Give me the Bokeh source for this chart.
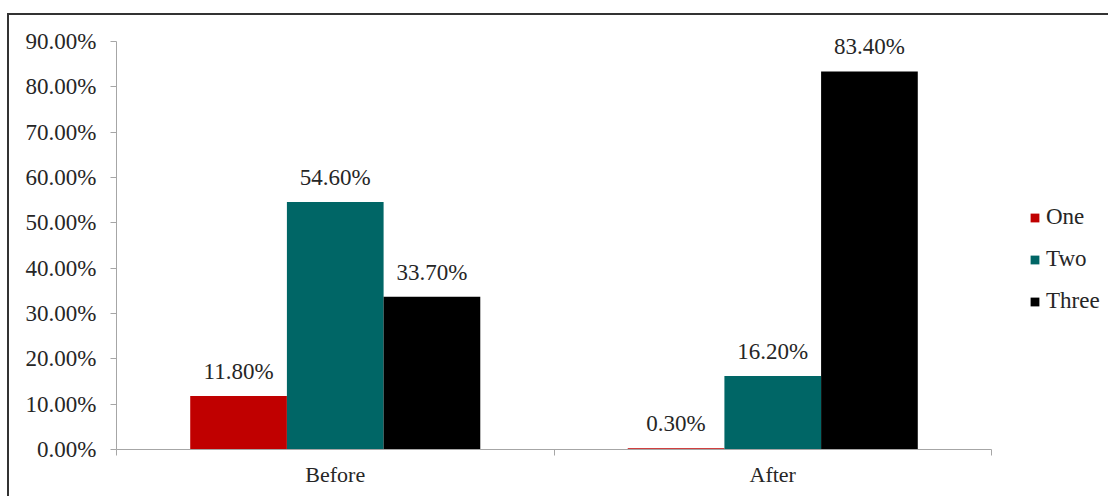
from bokeh.plotting import figure
from bokeh.models import (Range1d, LinearAxis, FixedTicker, NumeralTickFormatter,
                          ColumnDataSource, LabelSet, Legend, LegendItem)
from bokeh.embed import file_html
from bokeh.resources import INLINE

categories = ["Before", "After"]
series_names = ["One", "Two", "Three"]
one = [0.118, 0.003]
two = [0.546, 0.162]
three = [0.337, 0.834]
y_ticks = [0.0, 0.1, 0.2, 0.3, 0.4, 0.5, 0.6, 0.7, 0.8, 0.9]

colors = ["#C00000", "#006666", "#000000"]
FONT = "Liberation Serif"
TXT = "#262626"
AX = "#A6A6A6"

n = len(categories)
# frame spans to the right edge so the legend is not clipped; axis/grid bounded to data
p = figure(width=1101, height=483, output_backend="svg", toolbar_location=None,
           x_range=Range1d(0, n * 994 / 875), y_range=Range1d(0, 0.9 * 429 / 408),
           x_axis_type=None, y_axis_type=None,
           min_border_left=107, min_border_right=0, min_border_top=5, min_border_bottom=49,
           margin=(13, 0, 0, 7),
           styles={"border-top": "2px solid #333333", "border-left": "2px solid #333333"})
p.outline_line_color = None
p.background_fill_color = "white"
p.border_fill_color = "white"

# y axis
yax = LinearAxis(ticker=FixedTicker(ticks=y_ticks, minor_ticks=[]),
                 formatter=NumeralTickFormatter(format="0.00%"), bounds=(0, 0.9))
yax.axis_line_color = AX
yax.major_tick_line_color = AX
yax.major_tick_out = 6
yax.major_tick_in = 0
yax.major_label_text_font = FONT
yax.major_label_text_font_size = "23px"
yax.major_label_text_color = TXT
yax.major_label_standoff = 14
p.add_layout(yax, "left")

# x axis: labels at centers, tick marks at category boundaries (minor ticks)
centers = [i + 0.5 for i in range(n)]
bounds = [float(i) for i in range(n + 1)]
xax = LinearAxis(ticker=FixedTicker(ticks=centers, minor_ticks=bounds), bounds=(0, n))
xax.major_label_overrides = {c: name for c, name in zip(centers, categories)}
xax.axis_line_color = AX
xax.major_tick_line_color = None
xax.minor_tick_line_color = AX
xax.minor_tick_out = 6
xax.minor_tick_in = 0
xax.major_label_text_font = FONT
xax.major_label_text_font_size = "22px"
xax.major_label_text_color = TXT
xax.major_label_standoff = 6
p.add_layout(xax, "below")

p.ygrid.ticker = FixedTicker(ticks=y_ticks, minor_ticks=[])
p.ygrid.grid_line_color = "#BFBFBF"
p.ygrid.grid_line_width = 1.5
p.ygrid.bounds = (0, n)
p.xgrid.grid_line_color = None

bw = 0.221
offsets = [-bw, 0.0, bw]
items = []
for name, vals, col, off in zip(series_names, [one, two, three], colors, offsets):
    src = ColumnDataSource(dict(
        x=[c + off for c in centers],
        top=vals,
        label=[f"{v * 100:.2f}%" for v in vals],
    ))
    r = p.vbar(x="x", top="top", width=bw, source=src, fill_color=col, line_color=None)
    labels = LabelSet(x="x", y="top", text="label", source=src, text_align="center",
                      text_baseline="bottom", y_offset=12, text_font=FONT,
                      text_font_size="23px", text_color=TXT)
    p.add_layout(labels)
    items.append(LegendItem(label=name, renderers=[r]))

legend = Legend(items=items, location=(913, 135), orientation="vertical")
legend.label_text_font = FONT
legend.label_text_font_size = "23px"
legend.label_text_color = TXT
legend.glyph_width = 11
legend.glyph_height = 11
legend.label_standoff = 6
legend.label_height = 22
legend.spacing = 16
legend.padding = 0
legend.margin = 0
legend.border_line_color = None
legend.background_fill_alpha = 0
p.add_layout(legend, "center")

open("out.html", "w").write(file_html(p, INLINE))
